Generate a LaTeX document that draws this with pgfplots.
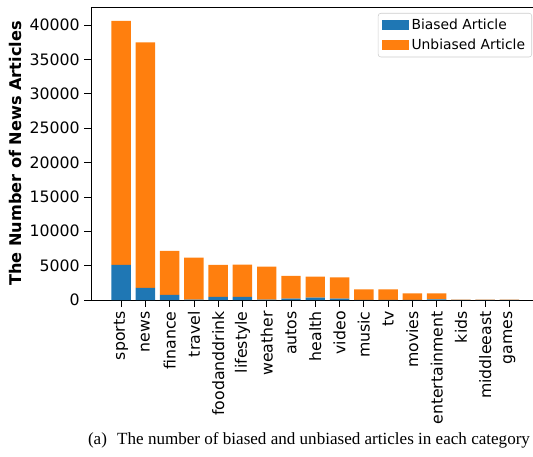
\documentclass[border=0pt]{standalone}
\usepackage{pgfplots}
\pgfplotsset{compat=1.18}
\usepackage{fontspec}
\setmainfont{DejaVu Sans}
\newfontfamily\capfont{Liberation Serif}
\usetikzlibrary{calc}
\definecolor{tabblue}{HTML}{1F77B4}
\definecolor{taborange}{HTML}{FF7F0E}
\begin{document}
\begin{tikzpicture}
\begin{axis}[
  scale only axis,
  width=331.5pt, height=219.75pt,
  ybar stacked,
  bar width=0.8,
  xmin=-1.24, xmax=16.97,
  ymin=0, ymax=42630,
  axis x line*=bottom, axis y line*=left,
  axis line style={-, black, line width=0.6pt},
  xtick={0,...,16},
  xticklabels={sports,news,finance,travel,foodanddrink,lifestyle,weather,autos,health,video,music,tv,movies,entertainment,kids,middleeast,games},
  xticklabel style={rotate=90, anchor=east, font=\fontsize{11.8pt}{13pt}\selectfont},
  ytick={0,5000,...,40000},
  scaled y ticks=false,
  /pgf/number format/1000 sep={},
  /pgf/number format/assume math mode=true,
  yticklabel style={font=\fontsize{11.8pt}{13pt}\selectfont},
  tick align=outside,
  major tick length=5pt,
  tick style={black, line width=0.6pt},
  ylabel={\bfseries The Number of News Articles},
  ylabel style={at={(axis description cs:-0.17,0.5)}, anchor=center, font=\fontsize{12.1pt}{14pt}\selectfont},
  legend style={at={(rel axis cs:1,1)}, anchor=north east, xshift=-0.75pt, yshift=-4.5pt,
    draw=black!20, rounded corners=2pt, font=\fontsize{10.4pt}{12pt}\selectfont,
    row sep=2pt, inner xsep=3pt, inner ysep=2pt},
  legend cell align=left,
  legend image code/.code={\fill[#1, sharp corners] (0pt,-3.75pt) rectangle (20pt,3.75pt);},
]
\addplot[fill=tabblue, draw=none] coordinates {
(0,5100) (1,1750) (2,730) (3,50) (4,440) (5,440) (6,40) (7,200) (8,350) (9,200) (10,30) (11,30) (12,20) (13,100) (14,5) (15,5) (16,5)};
\addlegendentry{Biased Article}
\addplot[fill=taborange, draw=none] coordinates {
(0,35500) (1,35750) (2,6420) (3,6100) (4,4660) (5,4710) (6,4810) (7,3300) (8,3050) (9,3100) (10,1530) (11,1530) (12,960) (13,880) (14,55) (15,45) (16,35)};
\addlegendentry{Unbiased Article}
\draw[black, line width=0.6pt] (rel axis cs:0,1) -- (rel axis cs:1,1);
\coordinate (SW) at (rel axis cs:0,0);
\end{axis}
\node[anchor=base, font=\capfont\fontsize{12.8pt}{14pt}\selectfont] at ($(SW)+(163.5pt,-108.75pt)$) {(a)\hspace{0.35em} The number of biased and unbiased articles in each category};
\pgfresetboundingbox
\path ($(SW)+(-68.25pt,-117.75pt)$) rectangle ($(SW)+(331.5pt,225pt)$);
\end{tikzpicture}
\end{document}
